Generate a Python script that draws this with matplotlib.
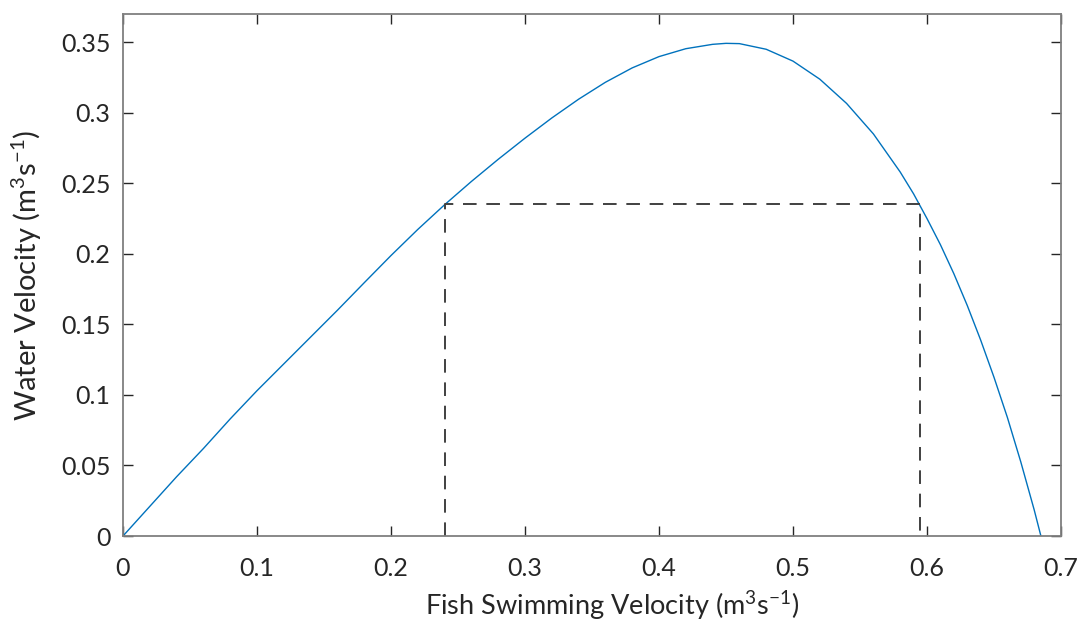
import matplotlib
matplotlib.use("Agg")
import matplotlib.pyplot as plt

# curve
fish_vel = [0, 0.02, 0.04, 0.06, 0.08, 0.10, 0.12, 0.14, 0.16, 0.18, 0.20,
            0.22, 0.24, 0.26, 0.28, 0.30, 0.32, 0.34, 0.36, 0.38, 0.40,
            0.42, 0.44, 0.45, 0.46, 0.48, 0.50, 0.52, 0.54, 0.56, 0.58,
            0.59, 0.60, 0.61, 0.62, 0.63, 0.64, 0.65, 0.66, 0.67, 0.68, 0.685]
water_vel = [0, 0.021, 0.042, 0.062, 0.083, 0.103, 0.122, 0.141, 0.160, 0.1795, 0.1988,
             0.2173, 0.2348, 0.2513, 0.2670, 0.2820, 0.2963, 0.3096, 0.3216, 0.3318, 0.3398,
             0.3454, 0.3485, 0.3492, 0.3490, 0.3450, 0.3366, 0.3238, 0.3066, 0.2850, 0.2580,
             0.2425, 0.2250, 0.2065, 0.1860, 0.1635, 0.1390, 0.1125, 0.0840, 0.0525, 0.0185, 0.0]

# dashed box: working range of the fish
range_x = [0.24, 0.24, 0.595, 0.595]
range_y = [0.0, 0.235, 0.235, 0.0]

xticks = [0, 0.1, 0.2, 0.3, 0.4, 0.5, 0.6, 0.7]
xtick_labels = ["0", "0.1", "0.2", "0.3", "0.4", "0.5", "0.6", "0.7"]
yticks = [0, 0.05, 0.1, 0.15, 0.2, 0.25, 0.3, 0.35]
ytick_labels = ["0", "0.05", "0.1", "0.15", "0.2", "0.25", "0.3", "0.35"]

plt.rcParams['font.family'] = ['Lato', 'DejaVu Sans']
plt.rcParams['mathtext.fontset'] = 'custom'
plt.rcParams['mathtext.rm'] = 'Lato'

fig = plt.figure(figsize=(10.82, 6.27), dpi=100)
ax = fig.add_axes([123 / 1082, 91 / 627, 938 / 1082, 522 / 627])

ax.plot(fish_vel, water_vel, color='#0072BD', lw=1.0)
ax.plot(range_x, range_y, color='#404040', lw=1.4, dashes=(7, 5))

ax.set_xlim(0, 0.7)
ax.set_ylim(0, 0.37)
ax.set_xticks(xticks)
ax.set_xticklabels(xtick_labels)
ax.set_yticks(yticks)
ax.set_yticklabels(ytick_labels)

for s in ax.spines.values():
    s.set_color('#7f7f7f')
    s.set_linewidth(1.3)
ax.tick_params(direction='in', length=7, width=1.0, color='#262626',
               top=True, right=True, labelsize=18, labelcolor='#262626')
ax.tick_params(axis='x', pad=15)
ax.tick_params(axis='y', pad=9)

# matlab put the x label a bit right of centre
ax.set_xlabel('Fish Swimming Velocity (m$\\mathregular{^3}$s$\\mathregular{^{-1}}$)',
              fontsize=19.5, color='#262626', labelpad=7, x=0.522)
ax.set_ylabel('Water Velocity (m$\\mathregular{^3}$s$\\mathregular{^{-1}}$)',
              fontsize=21, color='#262626', labelpad=12)

fig.savefig("out.png", dpi=100)
